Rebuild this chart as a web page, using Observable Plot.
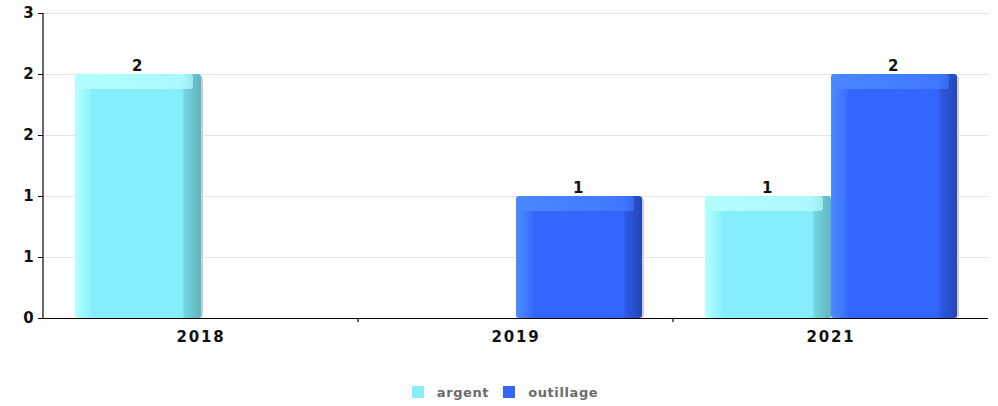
<!DOCTYPE html>
<html><head><meta charset="utf-8">
<script src="https://cdn.jsdelivr.net/npm/d3@7"></script>
<script src="https://cdn.jsdelivr.net/npm/@observablehq/plot@0.6"></script>
<style>
body{margin:0;background:#fff;font-family:"DejaVu Sans",sans-serif;}
#chart svg{display:block;}
#legend{display:flex;justify-content:center;align-items:center;height:46px;padding-left:12px;box-sizing:border-box;padding-top:18px;}
.item{display:flex;align-items:center;margin:0 7px;font-weight:bold;font-size:13px;color:#6b6b6b;letter-spacing:0.6px;}
.sw{width:12px;height:12px;margin-right:13px;}
</style></head><body>
<svg width="0" height="0" style="position:absolute">
  <defs>
    <linearGradient id="gA" x1="0" x2="1" y1="0" y2="0">
      <stop offset="0" stop-color="#b6ffff"/>
      <stop offset="0.12" stop-color="#8ef3fc"/>
      <stop offset="0.14" stop-color="#86eefb"/>
      <stop offset="0.85" stop-color="#86eefb"/>
      <stop offset="0.87" stop-color="#73d4df"/>
      <stop offset="1" stop-color="#5fb4bf"/>
    </linearGradient>
    <linearGradient id="gO" x1="0" x2="1" y1="0" y2="0">
      <stop offset="0" stop-color="#4c8cff"/>
      <stop offset="0.12" stop-color="#3a70ff"/>
      <stop offset="0.14" stop-color="#3366ff"/>
      <stop offset="0.85" stop-color="#3366ff"/>
      <stop offset="0.87" stop-color="#2d59e0"/>
      <stop offset="1" stop-color="#2446b8"/>
    </linearGradient>
    <linearGradient id="tA" x1="0" x2="1" y1="0" y2="0">
      <stop offset="0" stop-color="#b2feff"/>
      <stop offset="0.9" stop-color="#abf8ff"/>
      <stop offset="1" stop-color="#9ae8f0"/>
    </linearGradient>
    <linearGradient id="tO" x1="0" x2="1" y1="0" y2="0">
      <stop offset="0" stop-color="#4a88ff"/>
      <stop offset="0.9" stop-color="#3f78ff"/>
      <stop offset="1" stop-color="#3569ee"/>
    </linearGradient>
  </defs>
</svg>
<div id="chart"></div>
<div id="legend"></div>
<script>
const years = ["2018", "2019", "2021"];
const seriesNames = ["argent", "outillage"];
const argent = [2, null, 1];
const outillage = [null, 1, 2];
const yTickValues = [0, 0.5, 1, 1.5, 2, 2.5];
const yTickLabels = ["0", "1", "1", "2", "2", "3"];
const seriesColors = ["#86effb", "#3366ff"];
const seriesFills = ["url(#gA)", "url(#gO)"];
const seriesTops = ["url(#tA)", "url(#tO)"];

const seriesValues = [argent, outillage];
const seriesLayout = [
  {insetLeft: 32, insetRight: 157, dx: -63},
  {insetLeft: 158, insetRight: 31, dx: 63}
];

const marks = [
  Plot.gridY(yTickValues, {stroke: "#e4e4e4", strokeOpacity: 1})
];

seriesNames.forEach((name, s) => {
  const rows = years.map((year, i) => ({year, series: name, value: seriesValues[s][i]}))
    .filter(d => d.value != null);
  const L = seriesLayout[s];
  marks.push(
    Plot.barY(rows, {x: "year", y: "value", insetLeft: L.insetLeft + 2, insetRight: L.insetRight - 2, insetTop: 2, fill: "#cfcfcf", rx: 3}),
    Plot.barY(rows, {x: "year", y: "value", insetLeft: L.insetLeft, insetRight: L.insetRight, fill: seriesFills[s], rx: 3}),
    Plot.barY(rows, {x: "year", y1: "value", y2: "value", insetLeft: L.insetLeft + 1, insetRight: L.insetRight + 8, insetBottom: -15, fill: seriesTops[s], rx: 3}),
    Plot.text(rows, {x: "year", y: "value", text: d => String(d.value), dx: L.dx, dy: -4, lineAnchor: "bottom", fontSize: 15, fontWeight: "bold", fill: "#111", style: "letter-spacing:1px"})
  );
});

marks.push(
  Plot.ruleY([0], {stroke: "#000", strokeWidth: 1.2}),
  Plot.axisY(yTickValues, {tickSize: 5, tickPadding: 3, tickFormat: (d) => yTickLabels[yTickValues.indexOf(d)], fontSize: 15, fontWeight: "bold", fill: "#111", label: null}),
  Plot.axisX({tickSize: 0, tickPadding: 13, fontSize: 15, fontWeight: "bold", fill: "#111", label: null}),
  (index, scales, values, dims) => {
    const x = scales.x, y = scales.y;
    const g = d3.create("svg:g").attr("stroke", "#000").attr("stroke-width", 1.2);
    g.append("line").attr("x1", dims.marginLeft).attr("x2", dims.marginLeft)
      .attr("y1", y(yTickValues[yTickValues.length - 1])).attr("y2", y(0));
    for (const d of years.slice(1)) {
      const xx = x(d);
      g.append("line").attr("x1", xx).attr("x2", xx).attr("y1", y(0)).attr("y2", y(0) + 4);
    }
    return g.node();
  }
);

const plot = Plot.plot({
  width: 998,
  height: 360,
  marginTop: 13,
  marginBottom: 42,
  marginLeft: 43,
  marginRight: 10,
  style: {fontFamily: "DejaVu Sans", background: "#fff", letterSpacing: "1.8px"},
  x: {domain: years, padding: 0, axis: null},
  y: {domain: [0, 2.5], axis: null},
  marks
});
document.getElementById("chart").appendChild(plot);

const legend = document.getElementById("legend");
seriesNames.forEach((name, s) => {
  const it = document.createElement("div");
  it.className = "item";
  it.innerHTML = `<span class="sw" style="background:${seriesColors[s]}"></span><span>${name}</span>`;
  legend.appendChild(it);
});
</script>
</body></html>
